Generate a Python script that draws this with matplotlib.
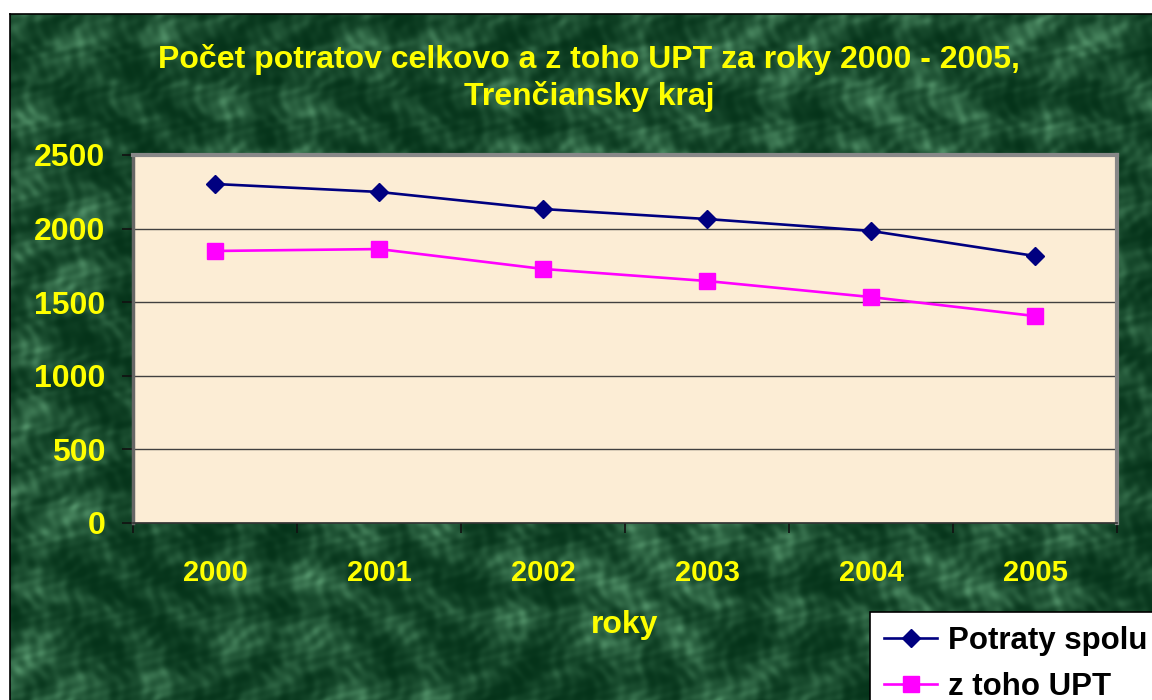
import numpy as np
import matplotlib.pyplot as plt

# Pocet potratov, Trenciansky kraj
roky = ['2000', '2001', '2002', '2003', '2004', '2005']
potraty_spolu = [2303, 2249, 2133, 2065, 1984, 1814]
upt = [1848, 1861, 1726, 1644, 1535, 1406]
y_ticks = [0, 500, 1000, 1500, 2000, 2500]

plt.rcParams['font.family'] = ['Liberation Sans', 'DejaVu Sans']
plt.rcParams['font.weight'] = 'bold'

fig = plt.figure(figsize=(11.52, 7), dpi=100)
fig.patch.set_facecolor('white')

# zelene pozadie (mramor)
bg = fig.add_axes([10 / 1152, 0, 1 - 10 / 1152, 1 - 14 / 700], zorder=-5)
yy, xx = np.mgrid[0:686, 0:1142]
tex = (np.sin(xx / 23.0 + np.sin(yy / 37.0) * 2.5) * np.cos(yy / 19.0 + np.sin(xx / 41.0) * 2.0)
       + 0.5 * np.sin(xx / 7.3 + np.sin(yy / 11.0) * 3.0) * np.sin(yy / 8.1 + np.cos(xx / 13.0) * 3.0)
       + 0.25 * np.sin(xx / 2.9 + yy / 4.7 + np.sin(yy / 6.0)) * np.cos(yy / 3.3 - xx / 5.9))
tex = (tex - tex.min()) / (tex.max() - tex.min())
dark = np.array([0.02, 0.20, 0.10])
light = np.array([0.33, 0.58, 0.42])
img = dark + (light - dark) * (tex[..., None] ** 2.0)
bg.imshow(img, aspect='auto', interpolation='nearest')
bg.set_xticks([])
bg.set_yticks([])
for s in ['left', 'top']:
    bg.spines[s].set_color('black')
    bg.spines[s].set_linewidth(1.2)
for s in ['right', 'bottom']:
    bg.spines[s].set_visible(False)

ax = fig.add_axes([133 / 1152, 1 - 523 / 700, 984 / 1152, 368 / 700])
ax.set_facecolor('#fcedd5')

x = np.arange(len(roky))
ax.plot(x, potraty_spolu, color='#000080', lw=1.9, marker='D', markersize=9,
        label='Potraty spolu', zorder=3)
ax.plot(x, upt, color='#ff00ff', lw=1.9, marker='s', markersize=11,
        label='z toho UPT', zorder=3)

ax.set_xlim(-0.5, len(roky) - 0.5)
ax.set_ylim(0, 2500)
ax.set_yticks(y_ticks)
ax.set_yticklabels([str(v) for v in y_ticks], color='yellow', fontsize=23, fontweight='bold')
ax.tick_params(axis='y', length=8, width=1.2, color='#111111', pad=12)

# hranice kategorii ako hlavne znacky, popisky ako vedlajsie
ax.set_xticks(np.arange(-0.5, len(roky), 1.0))
ax.set_xticklabels([])
ax.tick_params(axis='x', which='major', length=7, width=1.2, color='#111111', direction='out')
ax.set_xticks(x, minor=True)
ax.set_xticklabels(roky, minor=True, color='yellow', fontsize=21, fontweight='bold')
ax.tick_params(axis='x', which='minor', length=0, pad=26)
ax.grid(axis='y', color='#404040', lw=1)
ax.grid(axis='x', visible=False)
ax.set_axisbelow(True)

for s in ['top', 'right']:
    ax.spines[s].set_color('#888888')
    ax.spines[s].set_linewidth(3)
ax.spines['left'].set_color('#666666')
ax.spines['left'].set_linewidth(2.5)
ax.spines['bottom'].set_color('#333333')
ax.spines['bottom'].set_linewidth(1.2)

fig.text(589 / 1152, 1 - 78 / 700,
         'Počet potratov celkovo a z toho UPT za roky 2000 - 2005,\nTrenčiansky kraj',
         color='yellow', fontsize=23, fontweight='bold', ha='center', va='center',
         linespacing=1.25)
fig.text(625 / 1152, 1 - 625 / 700, 'roky', color='yellow', fontsize=23,
         fontweight='bold', ha='center', va='center')

leg = fig.legend(loc='upper left', bbox_to_anchor=(870 / 1152, 1 - 612 / 700),
                 fontsize=22.5, frameon=True, fancybox=False, handlelength=1.7,
                 borderpad=0.45, labelspacing=0.52, handletextpad=0.35,
                 borderaxespad=0)
leg.get_frame().set_edgecolor('black')
leg.get_frame().set_linewidth(1.2)
leg.get_frame().set_facecolor('white')
leg.get_frame().set_alpha(1)
for t in leg.get_texts():
    t.set_fontweight('bold')

fig.savefig('out.png', dpi=100)
